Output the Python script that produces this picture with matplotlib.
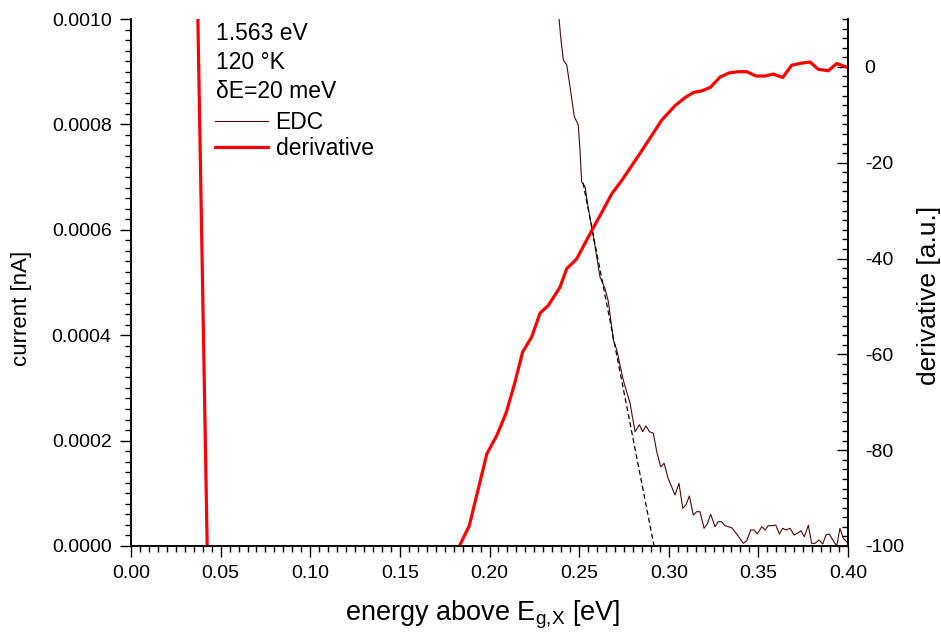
import numpy as np
import matplotlib.pyplot as plt
from matplotlib.ticker import MultipleLocator, FormatStrFormatter
from matplotlib.lines import Line2D

plt.rcParams['font.family'] = ['Liberation Sans', 'DejaVu Sans']
plt.rcParams['mathtext.default'] = 'regular'
plt.rcParams['axes.unicode_minus'] = False

# EDC, current in nA vs energy above E_g,X in eV
edc_x = [0.2383, 0.2397, 0.2412, 0.2431, 0.2449, 0.2473, 0.2495, 0.2505, 0.2514, 0.2533,
         0.2551, 0.2570, 0.2589, 0.2616, 0.2644, 0.2663, 0.2691, 0.2710, 0.2746, 0.2784,
         0.2812, 0.2836, 0.2855, 0.2873, 0.2892, 0.2914, 0.2933, 0.2955, 0.2974, 0.2997,
         0.3035, 0.3057, 0.3078, 0.3096, 0.3115, 0.3137, 0.3156, 0.3174, 0.3197, 0.3215,
         0.3234, 0.3258, 0.3276, 0.3295, 0.3314, 0.3351, 0.3379, 0.3416, 0.3435, 0.3457,
         0.3476, 0.3494, 0.3519, 0.3537, 0.3555, 0.3574, 0.3597, 0.3617, 0.3636, 0.3654,
         0.3677, 0.3699, 0.3723, 0.3738, 0.3756, 0.3779, 0.3797, 0.3816, 0.3838, 0.3859,
         0.3877, 0.3896, 0.3915, 0.3937, 0.3955, 0.3974, 0.4002]
edc_y = [1.02e-3, 9.66e-4, 9.22e-4, 9.13e-4, 8.72e-4, 8.15e-4, 7.99e-4, 7.51e-4, 6.91e-4, 6.82e-4,
         6.41e-4, 6.06e-4, 5.68e-4, 5.11e-4, 4.89e-4, 4.64e-4, 3.91e-4, 3.72e-4, 3.15e-4, 2.71e-4,
         2.17e-4, 2.30e-4, 2.17e-4, 2.28e-4, 2.17e-4, 2.14e-4, 1.79e-4, 1.50e-4, 1.57e-4, 1.28e-4,
         9.68e-5, 1.19e-4, 7.15e-5, 7.78e-5, 9.49e-5, 5.88e-5, 6.51e-5, 6.51e-5, 3.36e-5, 4.17e-5,
         6.02e-5, 3.66e-5, 4.61e-5, 4.61e-5, 3.85e-5, 3.47e-5, 2.28e-5, 5.1e-6, 1.01e-5, 3.04e-5,
         3.04e-5, 2.28e-5, 3.66e-5, 3.04e-5, 3.85e-5, 3.85e-5, 3.98e-5, 2.28e-5, 3.36e-5, 3.04e-5,
         3.36e-5, 2.09e-5, 2.52e-5, 2.90e-5, 1.76e-5, 3.93e-5, 5.1e-6, 5.1e-6, 1.14e-5, 3.8e-6,
         2.09e-5, 2.28e-5, 1.14e-5, 0.0, 3.36e-5, 1.46e-5, 5.1e-6]

# linear fit of the EDC edge (dashed)
fit_x = [0.2522, 0.2918]
fit_y = [6.89e-4, 0.0]

# derivative, a.u.
der_x = [0.035, 0.045, 0.060, 0.100, 0.140, 0.170, 0.1832, 0.1887, 0.1985, 0.2041,
         0.2093, 0.2137, 0.2185, 0.2235, 0.2282, 0.2328, 0.2393, 0.2431, 0.2486, 0.2570,
         0.2626, 0.2682, 0.2737, 0.2839, 0.2961, 0.3035, 0.3091, 0.3137, 0.3184, 0.3231,
         0.3287, 0.3338, 0.3388, 0.3435, 0.3487, 0.3537, 0.3583, 0.3636, 0.3686, 0.3742,
         0.3789, 0.3834, 0.3890, 0.3937, 0.4002]
der_y = [59, -153, -170, -175, -160, -130, -100, -95.8, -80.8, -76.9,
         -72.2, -66.5, -59.5, -56.4, -51.4, -49.8, -46.0, -42.1, -40.1, -34.2,
         -30.4, -26.5, -23.75, -18.1, -11.1, -8.1, -6.4, -5.35, -5.0, -4.3,
         -2.1, -1.25, -1.0, -1.0, -1.9, -1.9, -1.5, -2.2, 0.35, 0.8,
         1.0, -0.5, -0.8, 0.7, -0.15]

info_lines = ['1.563 eV', '120 °K', 'δE=20 meV']

fig = plt.figure(figsize=(9.41, 6.37), dpi=100)
ax = fig.add_axes([131 / 941, 91 / 637, 717 / 941, 527 / 637])
ax2 = ax.twinx()

edc_color = '#4a0c0c'
ax.plot(edc_x, edc_y, color=edc_color, lw=0.8)
ax.plot(fit_x, fit_y, color='black', lw=0.9, ls=(0, (4, 2.5)))
ax2.plot(der_x, der_y, color='#ff0000', lw=2.3)

ax.set_xlim(0, 0.40)
ax.set_ylim(0, 0.0010)
ax2.set_ylim(-100, 10)

ax.xaxis.set_major_locator(MultipleLocator(0.05))
ax.xaxis.set_minor_locator(MultipleLocator(0.005))
ax.xaxis.set_major_formatter(FormatStrFormatter('%.2f'))
ax.yaxis.set_major_locator(MultipleLocator(0.0002))
ax.yaxis.set_minor_locator(MultipleLocator(0.00002))
ax.yaxis.set_major_formatter(FormatStrFormatter('%.4f'))
ax2.yaxis.set_major_locator(MultipleLocator(20))
ax2.yaxis.set_minor_locator(MultipleLocator(2))

for a in (ax, ax2):
    a.spines['top'].set_visible(False)
    for s in a.spines.values():
        s.set_linewidth(1.1)

ax.tick_params(axis='both', which='major', direction='out', length=8, width=1,
               labelsize=14, pad=6)
ax.tick_params(axis='both', which='minor', direction='out', length=4, width=1)
ax.tick_params(axis='y', right=False)
ax2.tick_params(axis='y', which='major', direction='in', length=8, width=1,
                labelsize=14, pad=12)
ax2.tick_params(axis='y', which='minor', direction='in', length=4, width=1)

ax.set_xlabel('energy above E$_{g{,}X}$ [eV]', fontsize=19.5)
ax.set_ylabel('current [nA]', fontsize=16)
ax2.set_ylabel('derivative [a.u.]', fontsize=19)
ax.xaxis.set_label_coords(0.49, -0.1)
ax.yaxis.set_label_coords(-0.138, 0.45)
ax2.yaxis.set_label_coords(1.096, 0.475)

for i, t in enumerate(info_lines):
    ax.text(0.1186, 0.973 - i * 0.055, t, transform=ax.transAxes, fontsize=16.5,
            va='center', ha='left')

handles = [Line2D([], [], color=edc_color, lw=0.8),
           Line2D([], [], color='#ff0000', lw=2.3)]
ax.legend(handles, ['EDC', 'derivative'], loc='upper left', frameon=False,
          bbox_to_anchor=(0.1186 - 0.008, 0.835), fontsize=16.5, handlelength=2.3,
          handletextpad=0.35, labelspacing=0.15, borderaxespad=0, borderpad=0.2)

fig.savefig('out.png', dpi=100)
